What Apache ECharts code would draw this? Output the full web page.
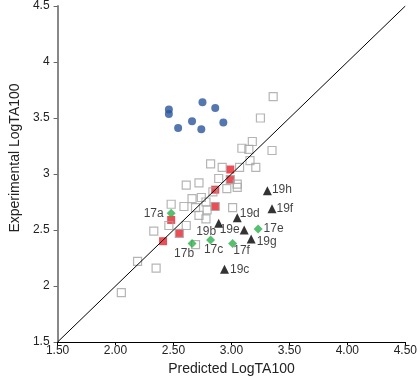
<!DOCTYPE html>
<html>
<head>
<meta charset="utf-8">
<script src="https://cdn.jsdelivr.net/npm/echarts@6/dist/echarts.min.js"></script>
<style>
  html, body { margin: 0; padding: 0; background: #fff; }
  #chart { width: 420px; height: 384px; }
</style>
</head>
<body>
<div id="chart"></div>
<script>
// open squares (training set)
const openX = [3.36, 3.25, 3.18, 3.09, 3.15, 3.35, 3.16, 3.21, 2.82, 2.92, 3.07, 2.89, 3.05, 3.05, 2.72, 2.61, 2.96,
  2.74, 2.66, 2.59, 2.69, 2.78, 2.79, 2.72, 2.78, 3.01, 2.48, 2.46, 2.61, 2.33, 2.69, 2.19, 2.35, 2.05,
  2.99, 2.86, 2.55, 2.84];
const openY = [3.69, 3.50, 3.29, 3.23, 3.22, 3.21, 3.12, 3.06, 3.09, 3.06, 3.06, 2.96, 2.91, 2.88, 2.92, 2.90, 2.87,
  2.79, 2.78, 2.71, 2.70, 2.75, 2.68, 2.63, 2.60, 2.70, 2.73, 2.54, 2.54, 2.49, 2.37, 2.22, 2.16, 1.94,
  2.95, 2.71, 2.47, 2.84];
// filled red squares
const redX = [2.99, 2.99, 2.86, 2.86, 2.48, 2.55, 2.41];
const redY = [3.04, 2.95, 2.86, 2.71, 2.59, 2.47, 2.40];
// blue circles
const blueX = [2.46, 2.46, 2.54, 2.66, 2.75, 2.86, 2.74, 2.93];
const blueY = [3.575, 3.535, 3.41, 3.47, 3.64, 3.59, 3.40, 3.46];
// green diamonds
const greenNames = ['17a', '17b', '17c', '17f', '17e'];
const greenX = [2.48, 2.66, 2.82, 3.01, 3.23];
const greenY = [2.65, 2.38, 2.41, 2.38, 2.51];
// black triangles
const triNames = ['19h', '19f', '19d', '19b', '19e', '19g', '19c'];
const triX = [3.31, 3.35, 3.05, 2.89, 3.11, 3.17, 2.94];
const triY = [2.85, 2.69, 2.61, 2.56, 2.50, 2.42, 2.15];
// identity line ends
const lineEnds = [1.5, 4.5];

// where each point label sits
const labelPlace = {
  '19h': { position: 'right', distance: 0, offset: [0, -1] },
  '19f': { position: 'right', distance: 0, offset: [0, 0] },
  '19d': { position: 'right', distance: -2, offset: [0, -4] },
  '19b': { position: 'left', distance: 0, offset: [2, 8] },
  '19e': { position: 'left', distance: 0, offset: [0, 0] },
  '19g': { position: 'right', distance: 1, offset: [0, 3] },
  '19c': { position: 'right', distance: 1, offset: [0, 0] },
  '17a': { position: 'left', distance: 3, offset: [0, 0] },
  '17b': { position: 'bottom', distance: 0, offset: [-8, 0] },
  '17c': { position: 'bottom', distance: -1, offset: [3, 0] },
  '17f': { position: 'bottom', distance: -3, offset: [9, 0] },
  '17e': { position: 'right', distance: 1, offset: [0, 0] }
};

const font = 'Liberation Sans, Arial, sans-serif';
const zip = (xs, ys) => xs.map((x, i) => [x, ys[i]]);
const named = (names, xs, ys) => names.map((n, i) => ({
  name: n,
  value: [xs[i], ys[i]],
  label: Object.assign({ show: true }, labelPlace[n])
}));

const chart = echarts.init(document.getElementById('chart'));
const pointLabel = {
  formatter: '{b}',
  color: '#111',
  fontSize: 12,
  fontFamily: font
};

chart.setOption({
  animation: false,
  grid: { left: 47, right: 13, top: 5, bottom: 42 },
  xAxis: {
    type: 'value',
    min: 1.5,
    max: 4.5,
    interval: 0.5,
    name: 'Predicted LogTA100',
    nameLocation: 'middle',
    nameGap: 20,
    nameTextStyle: { color: '#222', fontSize: 14, fontFamily: font },
    axisLine: { lineStyle: { color: '#000', width: 1 } },
    axisTick: { length: 3, lineStyle: { color: '#000' } },
    axisLabel: {
      color: '#222', fontSize: 12, fontFamily: font, margin: 3,
      formatter: v => v.toFixed(2)
    },
    splitLine: { show: false }
  },
  yAxis: {
    type: 'value',
    min: 1.5,
    max: 4.5,
    interval: 0.5,
    name: 'Experimental LogTA100',
    nameLocation: 'middle',
    nameGap: 32,
    nameTextStyle: { color: '#222', fontSize: 14, fontFamily: font, padding: [0, 0, 0, 32] },
    axisLine: { lineStyle: { color: '#888', width: 2 } },
    axisTick: { length: 4, lineStyle: { color: '#666' } },
    axisLabel: { color: '#222', fontSize: 12, fontFamily: font, margin: 8 },
    splitLine: { show: false }
  },
  series: [
    {
      type: 'scatter',
      symbol: 'rect',
      symbolSize: 8,
      data: zip(redX, redY),
      itemStyle: { color: '#e8222a' },
      z: 2
    },
    {
      type: 'scatter',
      symbol: 'rect',
      symbolSize: 8,
      data: zip(openX, openY),
      itemStyle: { color: 'rgba(0,0,0,0)', borderColor: '#a3a3a3', borderWidth: 1.2 },
      z: 3
    },
    {
      type: 'scatter',
      symbol: 'circle',
      symbolSize: 8,
      data: zip(blueX, blueY),
      itemStyle: { color: '#2a559c' },
      z: 3
    },
    {
      type: 'scatter',
      symbol: 'diamond',
      symbolSize: 9,
      data: named(greenNames, greenX, greenY),
      itemStyle: { color: '#2db04b' },
      label: pointLabel,
      z: 4
    },
    {
      type: 'scatter',
      symbol: 'triangle',
      symbolSize: [9, 9],
      data: named(triNames, triX, triY),
      itemStyle: { color: '#000' },
      label: pointLabel,
      z: 4
    },
    {
      type: 'line',
      data: zip(lineEnds, lineEnds),
      symbol: 'none',
      lineStyle: { color: '#000', width: 1 },
      z: 5
    }
  ]
});
</script>
</body>
</html>
